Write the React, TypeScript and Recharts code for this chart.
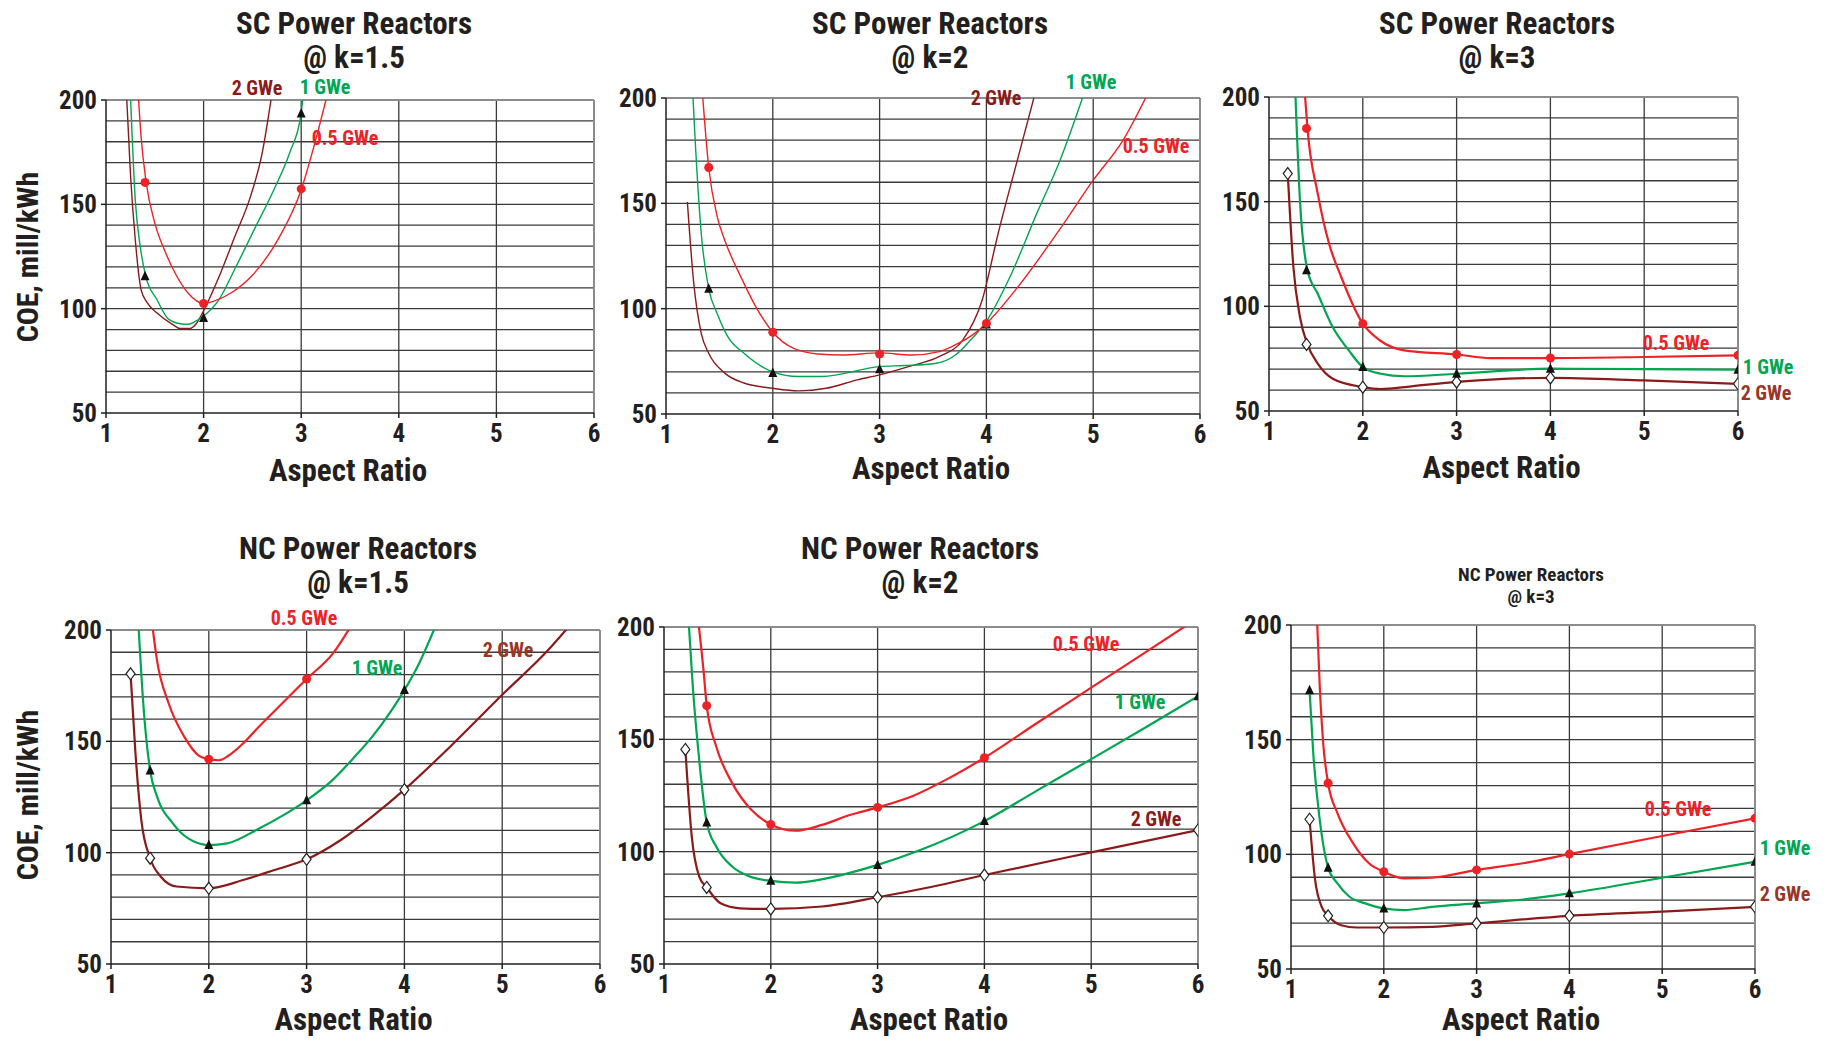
import React from 'react'
import { ComposedChart, Line, Scatter, XAxis, YAxis, ReferenceLine } from 'recharts'

const FONT = "'Liberation Sans Narrow', 'Arial Narrow', 'Roboto Condensed', 'Liberation Sans', sans-serif"
const RED = '#ee2226'
const GREEN = '#00a651'
const BROWN = '#8b1a1a'
const LABEL_BROWN = '#9b3526'
const INK = '#231f20'

const X_TICKS = [1, 2, 3, 4, 5, 6]
const Y_TICKS = [50, 100, 150, 200]
const Y_GRID = [60, 70, 80, 90, 100, 110, 120, 130, 140, 150, 160, 170, 180, 190]
const X_GRID = [2, 3, 4, 5]

type Pt = [number, number]

// SC @ k=1.5
const SC15_HALF: Pt[] = [[1.33, 203], [1.36, 182], [1.41, 161], [1.5, 141], [1.6, 128], [1.72, 116], [1.84, 107.5], [2.0, 102.5], [2.1, 103.5], [2.28, 107.5], [2.5, 116], [2.76, 133], [3.0, 157], [3.12, 176], [3.27, 203]]
const SC15_HALF_PTS: Pt[] = [[1.4, 160.5], [2, 102.5], [3, 157.4]]
const SC15_ONE: Pt[] = [[1.25, 203], [1.3, 152], [1.35, 130], [1.41, 115], [1.52, 104.5], [1.64, 95], [1.76, 92.8], [1.84, 92.5], [1.92, 94], [2.0, 96.5], [2.16, 104.5], [2.32, 119], [2.52, 138], [2.72, 157], [2.88, 174.5], [3.0, 193.6], [3.02, 203]]
const SC15_ONE_PTS: Pt[] = [[1.4, 115.5], [2, 95.5], [3, 193.5]]
const SC15_TWO: Pt[] = [[1.21, 203], [1.25, 165], [1.3, 133], [1.36, 109], [1.42, 103], [1.52, 98], [1.68, 92.5], [1.76, 90.5], [1.86, 90.5], [1.92, 92.5], [2.0, 99], [2.16, 115.5], [2.32, 134.6], [2.48, 153.7], [2.6, 174.5], [2.7, 203]]

// SC @ k=2
const SC2_HALF: Pt[] = [[1.34, 203], [1.4, 167], [1.48, 143.6], [1.55, 132.5], [1.7, 115.2], [1.84, 101], [2.0, 88.8], [2.2, 81], [2.42, 78.5], [2.65, 78], [3.0, 79], [3.3, 78], [3.56, 79.6], [3.74, 83.6], [3.89, 88.3], [4.0, 93], [4.29, 110], [4.66, 135.7], [5.0, 161], [5.28, 180], [5.52, 203]]
const SC2_HALF_PTS: Pt[] = [[1.4, 167], [2, 88.8], [3, 78.5], [4, 93]]
const SC2_ONE: Pt[] = [[1.25, 203], [1.27, 183], [1.33, 135.7], [1.4, 109.5], [1.48, 97.6], [1.58, 86.6], [1.73, 78.8], [2.0, 70], [2.24, 67.8], [2.46, 67.8], [3.0, 72.5], [3.23, 73], [3.52, 74], [3.71, 78], [3.85, 85], [4.0, 94], [4.22, 115], [4.47, 145], [4.69, 170.5], [4.92, 203]]
const SC2_ONE_PTS: Pt[] = [[1.4, 109.5], [2, 69.5], [3, 71.3], [4, 92.5]]
const SC2_TWO: Pt[] = [[1.2, 150.7], [1.26, 112], [1.33, 88.3], [1.4, 78.8], [1.55, 69.4], [1.73, 64.7], [2.0, 62.2], [2.24, 61], [2.5, 62.2], [2.79, 66.2], [3.0, 68.6], [3.27, 72.5], [3.56, 77.3], [3.78, 85.2], [3.96, 104], [4.11, 135.7], [4.29, 170.5], [4.46, 203]]

// SC @ k=3
const SC3_HALF: Pt[] = [[1.38, 203], [1.41, 185], [1.52, 153.8], [1.64, 130], [1.77, 114], [2.0, 91.7], [2.18, 83.8], [2.44, 79], [3.0, 77], [3.36, 75.3], [4.0, 75.3], [5.0, 75.8], [6.0, 76.6]]
const SC3_HALF_PTS: Pt[] = [[1.4, 185], [2, 91.7], [3, 77], [4, 75.3], [6, 76.6]]
const SC3_ONE: Pt[] = [[1.28, 203], [1.33, 150.6], [1.41, 117.2], [1.52, 106], [1.68, 90], [1.85, 79], [2.0, 71], [2.19, 67.8], [2.44, 66.6], [3.0, 67.8], [4.0, 70.2], [5.0, 70], [6.0, 69.7]]
const SC3_ONE_PTS: Pt[] = [[1.4, 117.2], [2, 71], [3, 67.8], [4, 70.2], [6, 69.7]]
const SC3_TWO: Pt[] = [[1.2, 163.4], [1.26, 118.8], [1.33, 94.9], [1.41, 81.8], [1.52, 72.6], [1.68, 65.4], [2.0, 61.4], [2.19, 60.5], [2.52, 61.8], [3.0, 63.9], [3.36, 65], [4.0, 65.8], [5.0, 64.6], [6.0, 63]]
const SC3_TWO_PTS: Pt[] = [[1.2, 163.4], [1.4, 81.8], [2, 61.4], [3, 63.9], [4, 65.8], [6, 63]]

// NC @ k=1.5
const NC15_HALF: Pt[] = [[1.42, 203], [1.47, 186.5], [1.59, 167], [1.75, 152], [1.9, 143.5], [2.0, 142], [2.1, 141.5], [2.2, 143.5], [2.35, 149], [2.5, 156], [2.67, 163.5], [3.0, 178], [3.27, 189.5], [3.47, 203]]
const NC15_HALF_PTS: Pt[] = [[2, 142], [3, 178]]
const NC15_ONE: Pt[] = [[1.28, 203], [1.33, 167], [1.4, 136.9], [1.47, 125.3], [1.63, 113.3], [1.79, 106.4], [2.0, 103.4], [2.19, 104.2], [2.5, 110.5], [2.75, 116.5], [3.0, 123.5], [3.25, 132], [3.5, 143.5], [3.67, 152], [3.87, 164], [4.0, 173], [4.15, 185], [4.33, 203]]
const NC15_ONE_PTS: Pt[] = [[1.4, 136.9], [2, 103.4], [3, 123.5], [4, 173]]
const NC15_TWO: Pt[] = [[1.2, 180.3], [1.25, 144.7], [1.31, 114.6], [1.4, 97.5], [1.51, 89.2], [1.67, 84.8], [2.0, 84], [2.35, 87.7], [2.67, 92.2], [3.0, 97], [3.35, 105.7], [3.67, 116.2], [4.0, 128.3], [4.47, 147.7], [5.0, 170.9], [5.47, 191], [5.71, 203]]
const NC15_TWO_PTS: Pt[] = [[1.2, 180.3], [1.4, 97.5], [2, 84], [3, 97], [4, 128.3]]

// NC @ k=2
const NC2_HALF: Pt[] = [[1.32, 203], [1.37, 180.7], [1.4, 165], [1.49, 146.7], [1.64, 130.4], [1.82, 118.5], [2.0, 112.1], [2.23, 109.3], [2.48, 111.9], [2.74, 116.3], [3.0, 119.7], [3.33, 124.8], [3.66, 132.5], [4.0, 141.8], [4.5, 157.5], [5.0, 173], [5.5, 188.5], [5.95, 202.5]]
const NC2_HALF_PTS: Pt[] = [[1.4, 165], [2, 112.1], [3, 119.7], [4, 141.8]]
const NC2_ONE: Pt[] = [[1.23, 203], [1.27, 173.3], [1.33, 140.7], [1.4, 113], [1.49, 102.2], [1.64, 93.3], [1.79, 89.2], [2.0, 87], [2.23, 86.2], [2.52, 88.1], [3.0, 94.1], [3.4, 100.7], [4.0, 113.6], [4.5, 127.4], [5.0, 141.2], [5.52, 155.6], [6.0, 169.2]]
const NC2_ONE_PTS: Pt[] = [[1.4, 113], [2, 87], [3, 94.1], [4, 113.6], [6, 169.2]]
const NC2_TWO: Pt[] = [[1.2, 145.5], [1.26, 106.7], [1.33, 88.9], [1.4, 84.1], [1.53, 77], [1.71, 74.8], [2.0, 74.5], [2.48, 75.6], [3.0, 79.7], [3.51, 84.4], [4.0, 89.6], [5.0, 99.7], [6.0, 109.6]]
const NC2_TWO_PTS: Pt[] = [[1.2, 145.5], [1.4, 84.1], [2, 74.5], [3, 79.7], [4, 89.6], [6, 109.6]]

// NC @ k=3
const NC3_HALF: Pt[] = [[1.28, 203], [1.31, 173], [1.35, 147], [1.4, 131], [1.5, 118], [1.67, 104.8], [1.84, 96.1], [2.0, 92.4], [2.22, 89.5], [2.52, 89.8], [3.0, 93.2], [3.5, 96.1], [4.0, 100.1], [5.0, 108], [6.0, 115.7]]
const NC3_HALF_PTS: Pt[] = [[1.4, 131], [2, 92.4], [3, 93.2], [4, 100.1], [6, 115.7]]
const NC3_ONE: Pt[] = [[1.2, 171.5], [1.24, 144], [1.31, 115], [1.4, 94.2], [1.5, 87.3], [1.63, 81.5], [1.8, 78.6], [2.0, 76.4], [2.22, 75.7], [2.52, 77.1], [3.0, 78.6], [3.5, 80.3], [4.0, 83], [5.0, 89.8], [6.0, 96.8]]
const NC3_ONE_PTS: Pt[] = [[1.2, 171.5], [1.4, 94.2], [2, 76.4], [3, 78.6], [4, 83], [6, 96.8]]
const NC3_TWO: Pt[] = [[1.2, 115.3], [1.26, 88.8], [1.33, 77.2], [1.4, 73.2], [1.54, 69.1], [1.71, 68.1], [2.0, 68.1], [2.52, 68.4], [3.0, 69.9], [4.0, 73.2], [5.0, 75], [6.0, 77.1]]
const NC3_TWO_PTS: Pt[] = [[1.2, 115.3], [1.4, 73.2], [2, 68.1], [3, 69.9], [4, 73.2], [6, 77.1]]

const toRows = (pts: Pt[]) => pts.map(([x, y]) => ({ x, y }))

const RedDot = (p: any) => <circle cx={p.cx} cy={p.cy} r={4.5} fill={RED} />
const Triangle = (p: any) => (
  <path d={`M${p.cx},${p.cy - 5.5}L${p.cx + 4.5},${p.cy + 4}L${p.cx - 4.5},${p.cy + 4}Z`} fill="#111" />
)
const Diamond = (p: any) => (
  <path
    d={`M${p.cx},${p.cy - 6}L${p.cx + 4.5},${p.cy}L${p.cx},${p.cy + 6}L${p.cx - 4.5},${p.cy}Z`}
    fill="#fff"
    stroke="#222"
    strokeWidth={1.2}
  />
)

interface PanelLabel {
  text: string
  color: string
  x: number
  y: number
}

interface PanelDef {
  title: string
  sub: string
  titleSize: number
  titleX: number
  titleY: [number, number]
  plot: [number, number, number, number] // left, top, width, height
  xLabelY: number
  yLabel?: number // center y of the rotated axis title
  lineWidth: number
  half: Pt[]
  one: Pt[]
  two: Pt[]
  halfPts: Pt[]
  onePts: Pt[]
  twoPts: Pt[]
  labels: PanelLabel[]
}

const PANELS: PanelDef[] = [
  {
    title: 'SC Power Reactors', sub: '@ k=1.5', titleSize: 31, titleX: 354, titleY: [23, 57],
    plot: [106, 100, 488, 313], xLabelY: 470, yLabel: 257, lineWidth: 1.4,
    half: SC15_HALF, one: SC15_ONE, two: SC15_TWO,
    halfPts: SC15_HALF_PTS, onePts: SC15_ONE_PTS, twoPts: [],
    labels: [
      { text: '2 GWe', color: BROWN, x: 257, y: 88 },
      { text: '1 GWe', color: GREEN, x: 325, y: 87 },
      { text: '0.5 GWe', color: RED, x: 345, y: 138 },
    ],
  },
  {
    title: 'SC Power Reactors', sub: '@ k=2', titleSize: 31, titleX: 930, titleY: [23, 57],
    plot: [666, 98, 534, 316], xLabelY: 468, lineWidth: 1.4,
    half: SC2_HALF, one: SC2_ONE, two: SC2_TWO,
    halfPts: SC2_HALF_PTS, onePts: SC2_ONE_PTS, twoPts: [],
    labels: [
      { text: '2 GWe', color: BROWN, x: 996, y: 98 },
      { text: '1 GWe', color: GREEN, x: 1091, y: 82 },
      { text: '0.5 GWe', color: RED, x: 1156, y: 146 },
    ],
  },
  {
    title: 'SC Power Reactors', sub: '@ k=3', titleSize: 31, titleX: 1497, titleY: [23, 57],
    plot: [1269, 97, 469, 314], xLabelY: 467, lineWidth: 2.2,
    half: SC3_HALF, one: SC3_ONE, two: SC3_TWO,
    halfPts: SC3_HALF_PTS, onePts: SC3_ONE_PTS, twoPts: SC3_TWO_PTS,
    labels: [
      { text: '0.5 GWe', color: RED, x: 1676, y: 343 },
      { text: '1 GWe', color: GREEN, x: 1768, y: 367 },
      { text: '2 GWe', color: LABEL_BROWN, x: 1766, y: 393 },
    ],
  },
  {
    title: 'NC Power Reactors', sub: '@ k=1.5', titleSize: 31, titleX: 358, titleY: [548, 582],
    plot: [111, 630, 489, 334], xLabelY: 1019, yLabel: 795, lineWidth: 2.2,
    half: NC15_HALF, one: NC15_ONE, two: NC15_TWO,
    halfPts: NC15_HALF_PTS, onePts: NC15_ONE_PTS, twoPts: NC15_TWO_PTS,
    labels: [
      { text: '0.5 GWe', color: RED, x: 304, y: 618 },
      { text: '1 GWe', color: GREEN, x: 377, y: 668 },
      { text: '2 GWe', color: LABEL_BROWN, x: 508, y: 650 },
    ],
  },
  {
    title: 'NC Power Reactors', sub: '@ k=2', titleSize: 31, titleX: 920, titleY: [548, 582],
    plot: [664, 627, 534, 337], xLabelY: 1019, lineWidth: 2.2,
    half: NC2_HALF, one: NC2_ONE, two: NC2_TWO,
    halfPts: NC2_HALF_PTS, onePts: NC2_ONE_PTS, twoPts: NC2_TWO_PTS,
    labels: [
      { text: '0.5 GWe', color: RED, x: 1086, y: 644 },
      { text: '1 GWe', color: GREEN, x: 1140, y: 702 },
      { text: '2 GWe', color: BROWN, x: 1156, y: 819 },
    ],
  },
  {
    title: 'NC Power Reactors', sub: '@ k=3', titleSize: 19, titleX: 1531, titleY: [574, 596],
    plot: [1291, 625, 464, 344], xLabelY: 1019, lineWidth: 2.2,
    half: NC3_HALF, one: NC3_ONE, two: NC3_TWO,
    halfPts: NC3_HALF_PTS, onePts: NC3_ONE_PTS, twoPts: NC3_TWO_PTS,
    labels: [
      { text: '0.5 GWe', color: RED, x: 1678, y: 809 },
      { text: '1 GWe', color: GREEN, x: 1785, y: 848 },
      { text: '2 GWe', color: LABEL_BROWN, x: 1785, y: 894 },
    ],
  },
]

const PAD_L = 80
const PAD_T = 20
const PAD_R = 20
const PAD_B = 40

const textAt = (x: number, y: number, size: number, color: string): React.CSSProperties => ({
  position: 'absolute',
  left: x,
  top: y,
  transform: 'translate(-50%, -50%)',
  fontFamily: FONT,
  fontWeight: 'bold',
  fontSize: size,
  lineHeight: 1,
  color,
  whiteSpace: 'nowrap',
})

function Panel({ p }: { p: PanelDef }) {
  const [left, top, w, h] = p.plot
  const tick = { fontSize: 25, fontWeight: 'bold', fill: INK, fontFamily: FONT }
  return (
    <>
      <div style={{ position: 'absolute', left: left - PAD_L, top: top - PAD_T }}>
        <ComposedChart
          width={w + PAD_L + PAD_R}
          height={h + PAD_T + PAD_B}
          margin={{ top: PAD_T, right: PAD_R, bottom: 0, left: 0 }}
        >
          <XAxis
            dataKey="x"
            type="number"
            domain={[1, 6]}
            ticks={X_TICKS}
            allowDataOverflow
            height={PAD_B}
            tick={tick}
            tickSize={5}
            tickMargin={6}
            stroke={INK}
            strokeWidth={1.5}
          />
          <YAxis
            dataKey="y"
            type="number"
            domain={[50, 200]}
            ticks={Y_TICKS}
            allowDataOverflow
            width={PAD_L}
            tick={tick}
            tickSize={5}
            tickMargin={4}
            stroke={INK}
            strokeWidth={1.5}
          />
          {Y_GRID.map((v) => (
            <ReferenceLine key={`gy${v}`} y={v} stroke="#3a3a3a" strokeWidth={1.3} />
          ))}
          {X_GRID.map((v) => (
            <ReferenceLine key={`gx${v}`} x={v} stroke="#3a3a3a" strokeWidth={1.3} />
          ))}
          <ReferenceLine y={200} stroke="#8c8c8c" strokeWidth={2} />
          <ReferenceLine x={6} stroke="#8c8c8c" strokeWidth={2} />
          <Line data={toRows(p.two)} dataKey="y" type="monotone" stroke={BROWN} strokeWidth={p.lineWidth} dot={false} isAnimationActive={false} />
          <Line data={toRows(p.one)} dataKey="y" type="monotone" stroke={GREEN} strokeWidth={p.lineWidth} dot={false} isAnimationActive={false} />
          <Line data={toRows(p.half)} dataKey="y" type="monotone" stroke={RED} strokeWidth={p.lineWidth} dot={false} isAnimationActive={false} />
          <Scatter data={toRows(p.twoPts)} shape={Diamond} isAnimationActive={false} />
          <Scatter data={toRows(p.onePts)} shape={Triangle} isAnimationActive={false} />
          <Scatter data={toRows(p.halfPts)} shape={RedDot} isAnimationActive={false} />
        </ComposedChart>
      </div>
      <div style={textAt(p.titleX, p.titleY[0], p.titleSize, INK)}>{p.title}</div>
      <div style={textAt(p.titleX, p.titleY[1], p.titleSize, INK)}>{p.sub}</div>
      <div style={textAt(left + w / 2 - 2, p.xLabelY, 31, INK)}>Aspect Ratio</div>
      {p.yLabel !== undefined && (
        <div style={{ ...textAt(28, p.yLabel, 30, INK), transform: 'translate(-50%, -50%) rotate(-90deg)' }}>
          COE, mill/kWh
        </div>
      )}
      {p.labels.map((l) => (
        <div key={l.text} style={textAt(l.x, l.y, 20, l.color)}>{l.text}</div>
      ))}
    </>
  )
}

export default function App() {
  return (
    <div style={{ position: 'absolute', left: 0, top: 0, width: 1831, height: 1040, background: '#fff', overflow: 'hidden' }}>
      {PANELS.map((p) => (
        <Panel key={p.title + p.sub} p={p} />
      ))}
    </div>
  )
}
